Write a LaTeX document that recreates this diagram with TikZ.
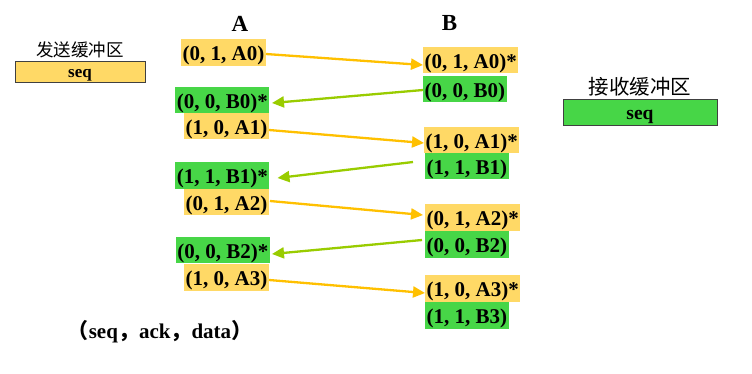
\documentclass[tikz,border=0pt]{standalone}
\usepackage{fontspec}
\setmainfont{Liberation Serif}
\newfontfamily\cjk{Noto Sans CJK SC}
\usetikzlibrary{arrows.meta,calc}
\definecolor{ylw}{HTML}{FFD966}
\definecolor{grn}{HTML}{47D647}
\definecolor{ylwarrow}{HTML}{FFC000}
\definecolor{grnarrow}{HTML}{99CC00}
\tikzset{
  pkt/.style={font=\fontsize{21}{21}\selectfont\bfseries, inner xsep=1.5pt, inner ysep=0pt, minimum height=0pt, text height=21.5pt, text depth=5pt},
  yp/.style={pkt, fill=ylw},
  gp/.style={pkt, fill=grn},
  ya/.style={draw=ylwarrow, line width=2.3pt, -{Triangle[length=12pt,width=11pt]}},
  ga/.style={draw=grnarrow, line width=2.3pt, -{Triangle[length=12pt,width=11pt]}},
  hdr/.style={font=\fontsize{23}{23}\selectfont\bfseries},
  buf/.style={draw=black!75, line width=0.8pt, inner sep=0pt, minimum height=0pt}
}
\begin{document}
\begin{tikzpicture}[x=1pt,y=-1pt]
\useasboundingbox (0,0) rectangle (752,373);
% headers
\node[hdr] (hA) at (240,24) {A};
\node[hdr] (hB) at (449.5,23) {B};
% buffers
\node[font=\cjk\fontsize{17.5}{17.5}\selectfont] (sendl) at (80,50) {发送缓冲区};
\node[buf, fill=ylw, minimum width=130pt, text height=16pt, text depth=5pt, font=\fontsize{17}{17}\selectfont\bfseries] (sendb) at (80,71.5) {seq};
\node[font=\cjk\fontsize{20.5}{20.5}\selectfont] (recvl) at (640,87) {接收缓冲区};
\node[buf, fill=grn, minimum width=154pt, text height=20pt, text depth=6pt, font=\fontsize{19.5}{19.5}\selectfont\bfseries] (recvb) at (640,112) {seq};
% A column
\node[yp, anchor=east] (a0) at (266,52.5) {(0, 1, A0)};
\node[gp, anchor=east] (b0s) at (269.5,100) {(0, 0, B0)*};
\node[yp, anchor=east] (a1) at (269,126) {(1, 0, A1)};
\node[gp, anchor=east] (b1s) at (269.5,175.5) {(1, 1, B1)*};
\node[yp, anchor=east] (a2) at (269,202) {(0, 1, A2)};
\node[gp, anchor=east] (b2s) at (270,250) {(0, 0, B2)*};
\node[yp, anchor=east] (a3) at (269,277.5) {(1, 0, A3)};
% B column
\node[yp, anchor=west] (a0s) at (423,60) {(0, 1, A0)*};
\node[gp, anchor=west] (b0s2) at (423,89) {(0, 0, B0)};
\node[yp, anchor=west] (a1s) at (424,140) {(1, 0, A1)*};
\node[gp, anchor=west] (b1) at (425,166) {(1, 1, B1)};
\node[yp, anchor=west] (a2s) at (425,217.5) {(0, 1, A2)*};
\node[gp, anchor=west] (b2) at (425,244.5) {(0, 0, B2)};
\node[yp, anchor=west] (a3s) at (425,288.5) {(1, 0, A3)*};
\node[gp, anchor=west] (b3) at (425,315.5) {(1, 1, B3)};
% arrows
\draw[ya] ($(a0.east)+(0,1.5)$) -- ($(a0s.west)+(0,5)$);
\draw[ga] ($(b0s2.west)+(0,1)$) -- ($(b0s.east)+(2.5,3)$);
\draw[ya] ($(a1.east)+(0,4)$) -- ($(a1s.west)+(0,3)$);
\draw[ga] ($(b1.west)+(-12,-4)$) -- ($(b1s.east)+(8,2.5)$);
\draw[ya] ($(a2.east)+(1,-1)$) -- ($(a2s.west)+(-2,-2.5)$);
\draw[ga] ($(b2.west)+(-3,-4.5)$) -- ($(b2s.east)+(2,4)$);
\draw[ya] ($(a3.east)+(0,2.5)$) -- ($(a3s.west)+(0,4.5)$);
% legend
\node[font=\fontsize{21}{21}\selectfont\bfseries] (legend) at (160,332) {{\cjk （}seq{\cjk ，}ack{\cjk ，}data{\cjk ）}};
\end{tikzpicture}
\end{document}
